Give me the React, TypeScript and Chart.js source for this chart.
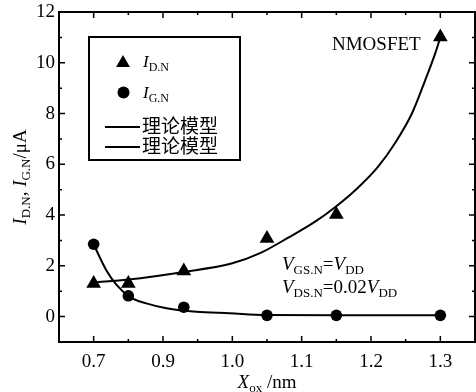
import { useEffect, useRef } from 'react';
import { Chart, registerables } from 'chart.js';

Chart.register(...registerables);

const SERIF = '"Liberation Serif", "Times New Roman", serif';
const CJK = '"Noto Sans CJK SC", sans-serif';

// Axis tick labels (the x axis is broken: the 0.7–0.9 span is compressed to half width)
const xTickLabels = ['0.7', '0.9', '1.0', '1.1', '1.2', '1.3'];
const yTickLabels = [0, 2, 4, 6, 8, 10, 12];

// Measured data
const xMeasured = [0.7, 0.8, 0.93, 1.05, 1.15, 1.3];
const idMeasured = [1.3, 1.3, 1.8, 3.08, 4.02, 11.02];
const igMeasured = [2.85, 0.82, 0.37, 0.05, 0.05, 0.05];

// Theoretical model curves
const idModelX = [0.7, 0.8, 0.93, 1.0, 1.04, 1.08, 1.12, 1.15, 1.18, 1.21, 1.235, 1.259, 1.278, 1.293, 1.3];
const idModelY = [1.35, 1.46, 1.76, 2.1, 2.5, 3.1, 3.75, 4.35, 5.05, 5.9, 6.85, 8.0, 9.3, 10.4, 11.0];
const igModelX = [0.7, 0.736, 0.766, 0.804, 0.852, 0.905, 0.948, 0.996, 1.048, 1.15, 1.3];
const igModelY = [2.84, 1.84, 1.25, 0.78, 0.52, 0.33, 0.19, 0.13, 0.06, 0.05, 0.05];

// broken-axis mapping from X_ox to axis coordinate
const toAxis = (x: number) => (x < 0.9 ? 0.8 + (x - 0.7) / 2 : x);
const pts = (xs: number[], ys: number[]) => xs.map((x, i) => ({ x: toAxis(x), y: ys[i] }));

type Part = { t: string; it?: boolean; sub?: boolean; cjk?: boolean };

function drawRich(ctx: CanvasRenderingContext2D, parts: Part[], x: number, y: number, size: number, align: 'left' | 'center' = 'left') {
  const f = (p: Part) => `${p.it ? 'italic ' : ''}${p.sub ? Math.round(size * 0.7) : size}px ${p.cjk ? CJK : SERIF}`;
  let w = 0;
  for (const p of parts) {
    ctx.font = f(p);
    w += ctx.measureText(p.t).width;
  }
  let cx = align === 'center' ? x - w / 2 : x;
  ctx.textAlign = 'left';
  ctx.textBaseline = 'alphabetic';
  for (const p of parts) {
    ctx.font = f(p);
    ctx.fillText(p.t, cx, y + (p.sub ? size * 0.22 : 0));
    cx += ctx.measureText(p.t).width;
  }
}

function triangle(ctx: CanvasRenderingContext2D, x: number, y: number, r: number) {
  ctx.beginPath();
  for (let k = 0; k < 3; k++) {
    const a = (k * 2 * Math.PI) / 3;
    const px = x + Math.sin(a) * r;
    const py = y - Math.cos(a) * r;
    if (k === 0) ctx.moveTo(px, py);
    else ctx.lineTo(px, py);
  }
  ctx.closePath();
  ctx.fill();
}

const overlay = {
  id: 'overlay',
  afterDraw(chart: any) {
    const ctx: CanvasRenderingContext2D = chart.ctx;
    const { left, right, top, bottom } = chart.chartArea;
    const xs = chart.scales.x;
    const ys = chart.scales.y;
    ctx.save();
    ctx.strokeStyle = '#000';
    ctx.fillStyle = '#000';
    ctx.lineWidth = 1.5;

    // x ticks (inward, bottom and top)
    const xPos = xTickLabels.map((l) => toAxis(parseFloat(l)));
    const xMinor = xPos.slice(1).map((v, i) => (v + xPos[i]) / 2);
    const tickX = (v: number, len: number) => {
      const p = xs.getPixelForValue(v);
      ctx.beginPath();
      ctx.moveTo(p, bottom);
      ctx.lineTo(p, bottom - len);
      ctx.moveTo(p, top);
      ctx.lineTo(p, top + len);
      ctx.stroke();
    };
    xPos.forEach((v) => tickX(v, 6));
    xMinor.forEach((v) => tickX(v, 3));

    // y ticks (inward, left and right)
    const tickY = (v: number, len: number) => {
      const p = ys.getPixelForValue(v);
      ctx.beginPath();
      ctx.moveTo(left, p);
      ctx.lineTo(left + len, p);
      ctx.moveTo(right, p);
      ctx.lineTo(right - len, p);
      ctx.stroke();
    };
    yTickLabels.forEach((v) => tickY(v, 6));
    yTickLabels.slice(1).forEach((v, i) => tickY((v + yTickLabels[i]) / 2, 3));

    // frame
    ctx.lineWidth = 2;
    ctx.strokeRect(left, top, right - left, bottom - top);

    // legend box
    ctx.strokeRect(89, 37, 151, 123);
    triangle(ctx, 123, 63, 8);
    drawRich(ctx, [{ t: 'I', it: true }, { t: 'D.N', sub: true }], 143, 67, 17);
    ctx.beginPath();
    ctx.arc(123.5, 92.5, 6, 0, Math.PI * 2);
    ctx.fill();
    drawRich(ctx, [{ t: 'I', it: true }, { t: 'G.N', sub: true }], 143, 98, 17);
    ctx.lineWidth = 2;
    ctx.beginPath();
    ctx.moveTo(105, 127);
    ctx.lineTo(140, 127);
    ctx.moveTo(105, 147);
    ctx.lineTo(140, 147);
    ctx.stroke();
    ctx.font = `19px ${CJK}`;
    ctx.textAlign = 'left';
    ctx.textBaseline = 'middle';
    ctx.fillText('理论模型', 142, 126);
    ctx.fillText('理论模型', 142, 146);

    // annotations
    drawRich(ctx, [{ t: 'NMOSFET' }], 332, 50, 19);
    drawRich(ctx, [{ t: 'V', it: true }, { t: 'GS.N', sub: true }, { t: '=' }, { t: 'V', it: true }, { t: 'DD', sub: true }], 282, 270, 19);
    drawRich(ctx, [{ t: 'V', it: true }, { t: 'DS.N', sub: true }, { t: '=0.02' }, { t: 'V', it: true }, { t: 'DD', sub: true }], 282, 293, 19);

    // axis titles
    drawRich(ctx, [{ t: 'X', it: true }, { t: 'ox', sub: true }, { t: ' /nm' }], (left + right) / 2, 388, 19, 'center');
    ctx.translate(26, (top + bottom) / 2);
    ctx.rotate(-Math.PI / 2);
    drawRich(ctx, [
      { t: 'I', it: true }, { t: 'D.N', sub: true }, { t: ', ' },
      { t: 'I', it: true }, { t: 'G.N', sub: true }, { t: '/μA' },
    ], 0, 0, 19, 'center');
    ctx.restore();
  },
};

export default function App() {
  const ref = useRef<HTMLCanvasElement>(null);
  useEffect(() => {
    if (!ref.current) return;
    const chart = new Chart(ref.current, {
      type: 'line',
      data: {
        datasets: [
          {
            label: 'ID.N',
            data: pts(xMeasured, idMeasured),
            showLine: false,
            pointStyle: 'triangle',
            pointRadius: 8.5,
            backgroundColor: '#000',
            borderColor: '#000',
            borderWidth: 0,
          },
          {
            label: 'IG.N',
            data: pts(xMeasured, igMeasured),
            showLine: false,
            pointStyle: 'circle',
            pointRadius: 5.8,
            backgroundColor: '#000',
            borderColor: '#000',
            borderWidth: 0,
          },
          {
            label: '理论模型',
            data: pts(idModelX, idModelY),
            pointRadius: 0,
            borderColor: '#000',
            borderWidth: 2,
            cubicInterpolationMode: 'monotone',
            fill: false,
          },
          {
            label: '理论模型',
            data: pts(igModelX, igModelY),
            pointRadius: 0,
            borderColor: '#000',
            borderWidth: 2,
            cubicInterpolationMode: 'monotone',
            fill: false,
          },
        ],
      },
      options: {
        responsive: false,
        animation: false,
        devicePixelRatio: 1,
        layout: { autoPadding: false, padding: { left: 0, top: 12, right: 1, bottom: 0 } },
        plugins: { legend: { display: false }, tooltip: { enabled: false } },
        scales: {
          x: {
            type: 'linear',
            min: 0.75,
            max: 1.35,
            grid: { display: false, drawTicks: false },
            border: { display: false },
            afterBuildTicks: (s: any) => {
              s.ticks = xTickLabels.map((l) => ({ value: toAxis(parseFloat(l)), label: l }));
            },
            ticks: {
              autoSkip: false,
              maxRotation: 0,
              padding: 9,
              color: '#000',
              font: { family: SERIF, size: 19 },
              callback: (v: any, i: number) => xTickLabels[i],
            },
            afterFit: (s: any) => {
              s.height = 50;
              s.paddingLeft = 0;
              s.paddingRight = 0;
            },
          },
          y: {
            type: 'linear',
            min: -1,
            max: 12,
            grid: { display: false, drawTicks: false },
            border: { display: false },
            afterBuildTicks: (s: any) => {
              s.ticks = yTickLabels.map((v) => ({ value: v }));
            },
            ticks: {
              autoSkip: false,
              padding: 4,
              color: '#000',
              font: { family: SERIF, size: 19 },
              callback: (v: any) => String(v),
            },
            afterFit: (s: any) => {
              s.width = 59;
              s.paddingTop = 0;
              s.paddingBottom = 0;
            },
          },
        },
      },
      plugins: [overlay],
    } as any);
    return () => chart.destroy();
  }, []);
  return (
    <div style={{ position: 'fixed', left: 0, top: 0, width: 476, height: 392, background: '#fff' }}>
      <canvas ref={ref} width={476} height={392} />
    </div>
  );
}
